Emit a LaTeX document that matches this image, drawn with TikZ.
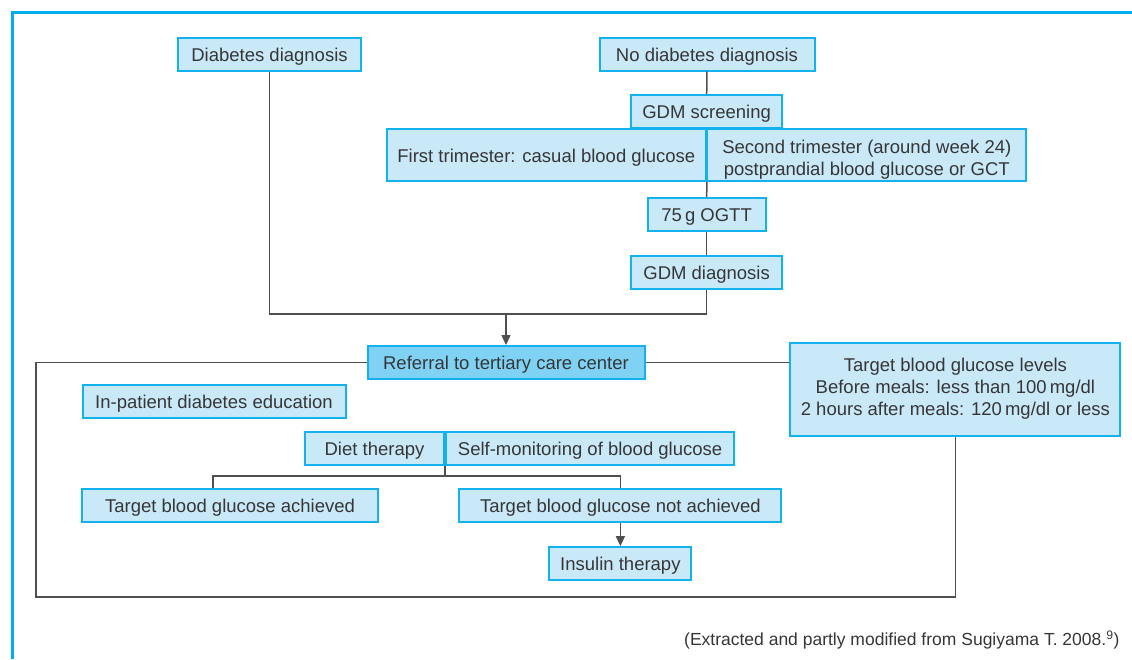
\documentclass[tikz,border=0pt]{standalone}
\usepackage{fontspec}
\setmainfont{Liberation Sans}
\usetikzlibrary{arrows.meta}
\definecolor{boxblue}{HTML}{12B2EE}
\definecolor{boxfill}{HTML}{C9E9F8}
\definecolor{reffill}{HTML}{7FD2F4}
\definecolor{linegray}{HTML}{4F4F4F}
\definecolor{textgray}{HTML}{363636}
\definecolor{frameblue}{HTML}{00AEEF}
\tikzset{
  box/.style={draw=boxblue, fill=boxfill, line width=2pt, text=textgray,
    inner sep=0pt, minimum height=33pt, text height=16.5pt, text depth=2pt,
    font=\fontsize{18.5}{22}\selectfont},
  multibox/.style={box, align=center, text height=, text depth=},
  link/.style={draw=linegray, line width=1.5pt},
  frame/.style={draw=frameblue, line width=2.6pt}
}
\begin{document}
\begin{tikzpicture}[x=1pt, y=-1pt, >={Triangle[length=10pt,width=9pt]}]
\useasboundingbox (0,0) rectangle (1132,659);
\draw[frame] (12.5,659) -- (12.5,12.5) -- (1132,12.5);
% top part
\node[box, minimum width=183pt] (dd) at (269.5,54) {Diabetes diagnosis};
\node[box, minimum width=215pt] (ndd) at (707,54) {No diabetes diagnosis};
\node[box, minimum width=151pt] (scr) at (706.6,111.5) {GDM screening};
\node[box, minimum width=319pt, minimum height=52pt] (tri1) at (546.3,155) {First trimester: casual blood glucose};
\node[multibox, minimum width=319pt, minimum height=52pt] (tri2) at (866.8,155) {\rule{0pt}{22pt}Second trimester (around week 24)\\postprandial blood glucose or GCT};
\node[box, minimum width=118pt] (ogtt) at (706.6,214.5) {75\,g OGTT};
\node[box, minimum width=151pt] (gdm) at (706.6,272) {GDM diagnosis};
\coordinate (jn) at (506,314);
\draw[link] (ndd) -- (scr);
\draw[link] (tri1.south east) -- (ogtt);
\draw[link] (ogtt) -- (gdm);
\draw[link] (dd.south) |- (jn) -| (gdm.south);
% tertiary care
\node[box, fill=reffill, minimum width=277pt] (ref) at (506,362.5) {Referral to tertiary care center};
\node[multibox, minimum width=330pt, minimum height=93pt] (tgt) at (955.4,389) {Target blood glucose levels\\Before meals: less than 100\,mg/dl\\2 hours after meals: 120\,mg/dl or less};
\node[box, minimum width=263pt] (edu) at (214,401) {In-patient diabetes education};
\node[box, minimum width=139pt] (diet) at (374.5,448.2) {Diet therapy};
\node[box, minimum width=288pt] (smbg) at (590.1,448.2) {Self-monitoring of blood glucose};
\node[box, minimum width=296pt] (ach) at (230,505.5) {Target blood glucose achieved};
\node[box, minimum width=322pt] (nach) at (620.4,505.5) {Target blood glucose not achieved};
\node[box, minimum width=142pt] (ins) at (620.4,563.6) {Insulin therapy};
\coordinate (br) at (445,476);
\coordinate (bl) at (36,597);
\draw[link, ->] (jn) -- (ref);
\draw[link] (ref.west) -| (bl) -| (tgt.south);
\draw[link] (ref.east) -- (ref.east -| tgt.west);
\draw[link] (diet.south east) -- (br);
\draw[link] ([xshift=-17pt]ach.north) |- (br) -| (nach.north);
\draw[link, ->] (nach) -- (ins);
% source
\node[anchor=east, text=textgray, font=\fontsize{17.5}{20}\selectfont] (src) at (1123,640) {(Extracted and partly modified from Sugiyama T. 2008.\textsuperscript{9})};
\end{tikzpicture}
\end{document}
